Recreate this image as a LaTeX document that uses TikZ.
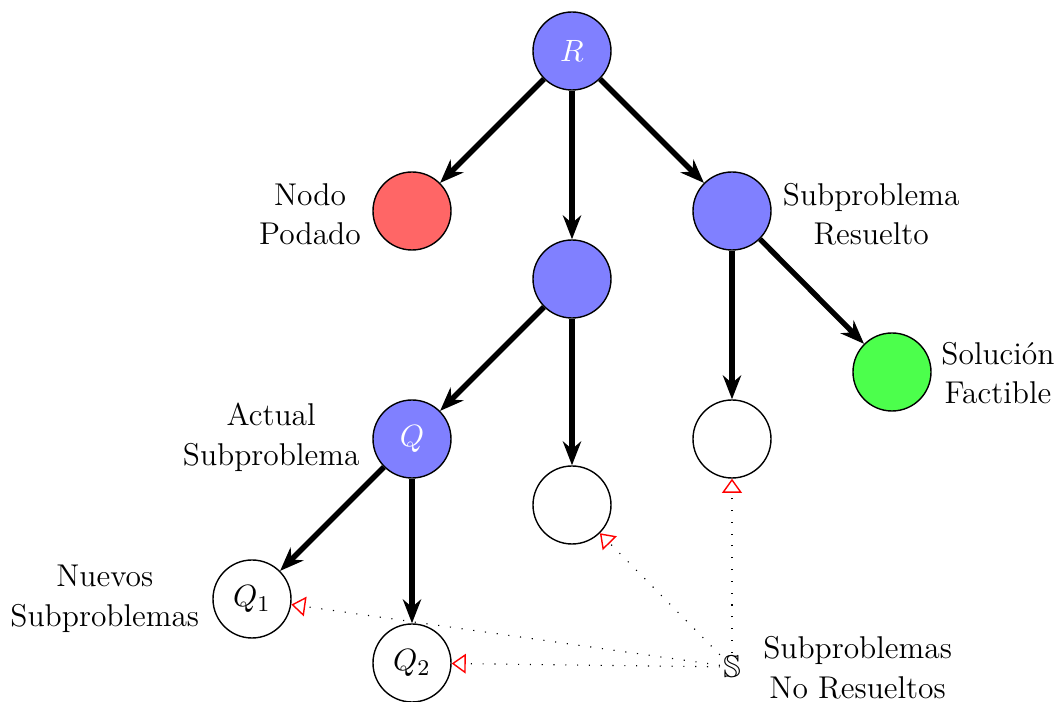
\documentclass[tikz,border=0pt]{standalone}
\usepackage{amssymb}
\usetikzlibrary{arrows.meta}
\begin{document}
\begin{tikzpicture}[
  every node/.style={font=\fontsize{11.2}{14}\selectfont},
  prob/.style={circle, draw=black, line width=0.5pt, minimum size=0.975cm, inner sep=0pt},
  open/.style={prob, fill=blue!50, text=white},
  pruned/.style={prob, fill=red!60},
  feasible/.style={prob, fill=green!70},
  pending/.style={prob, fill=white},
  branch/.style={line width=1.9pt, -{Stealth[length=8.5pt,width=6.5pt]}},
  queue/.style={line width=0.4pt, dash pattern=on 0.4pt off 3.8pt, -{Triangle[open, length=5pt, width=7pt, red, line width=0.5pt]}},
  lbl/.style={align=center}
]
\useasboundingbox (0,0) rectangle (13.2125,8.775);

% tree nodes
\node[open]     (R)  at (7.15, 8.1375) {$R$};
\node[pruned]   (P)  at (5.15, 6.1375) {};
\node[open]     (M)  at (7.15, 5.2875) {};
\node[open]     (S1) at (9.15, 6.1375) {};
\node[feasible] (F)  at (11.15, 4.125) {};
\node[pending]  (W2) at (9.15, 3.2875) {};
\node[open]     (Q)  at (5.15, 3.2875) {$Q$};
\node[pending]  (W1) at (7.15, 2.4625) {};
\node[pending]  (Q1) at (3.15, 1.2875) {$Q_1$};
\node[pending]  (Q2) at (5.15, 0.4875) {$Q_2$};
\node[inner sep=1pt] (L) at (9.15, 0.4375) {$\mathbb{S}$};

% labels
\node[lbl] (tP)  at (3.875, 6.1)   {Nodo\\Podado};
\node[lbl] (tS1) at (10.89, 6.1)   {Subproblema\\Resuelto};
\node[lbl] (tF)  at (12.475, 4.11) {Solución\\Factible};
\node[lbl] (tQ)  at (3.39, 3.31)   {Actual\\Subproblema};
\node[lbl] (tN)  at (1.31, 1.29)   {Nuevos\\Subproblemas};
\node[lbl] (tL)  at (10.72, 0.43)  {Subproblemas\\No Resueltos};

% branching
\draw[branch] (R) -- (P);
\draw[branch] (R) -- (M);
\draw[branch] (R) -- (S1);
\draw[branch] (S1) -- (W2);
\draw[branch] (S1) -- (F);
\draw[branch] (M) -- (Q);
\draw[branch] (M) -- (W1);
\draw[branch] (Q) -- (Q1);
\draw[branch] (Q) -- (Q2);

% list of unsolved subproblems
\draw[queue] (L) -- (Q1);
\draw[queue] (L) -- (Q2);
\draw[queue] (L) -- (W1);
\draw[queue] (L) -- (W2);
\end{tikzpicture}
\end{document}
